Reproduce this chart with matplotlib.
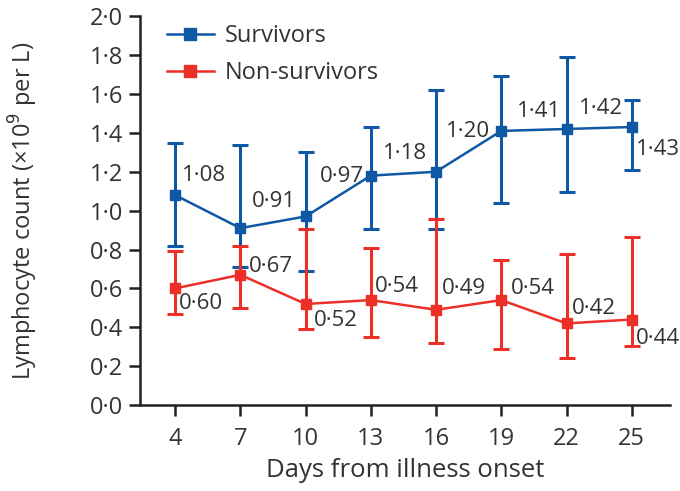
import matplotlib
matplotlib.use("Agg")
import matplotlib.pyplot as plt
from matplotlib.ticker import FuncFormatter

days = [4, 7, 10, 13, 16, 19, 22, 25]

surv_mean = [1.08, 0.91, 0.97, 1.18, 1.20, 1.41, 1.42, 1.43]
surv_upper = [1.35, 1.34, 1.30, 1.43, 1.62, 1.69, 1.79, 1.57]
surv_lower = [0.82, 0.71, 0.69, 0.905, 0.905, 1.04, 1.095, 1.21]

non_mean = [0.60, 0.67, 0.52, 0.54, 0.49, 0.54, 0.42, 0.44]
non_upper = [0.79, 0.82, 0.905, 0.81, 0.955, 0.745, 0.775, 0.865]
non_lower = [0.47, 0.50, 0.39, 0.35, 0.32, 0.29, 0.24, 0.305]

# label offsets in points (dx, dy) relative to each point
surv_offsets = [(5, 14), (8, 19), (10, 29), (9, 16), (7, 29), (11, 14), (9, 15), (3, -16)]
non_offsets = [(3, -11), (6, 6), (6, -12), (3, 10), (4, 15), (7, 8), (4, 11), (3, -14)]

blue = "#0f58a5"
red = "#ec2f27"
txt = "#333333"

plt.rcParams['font.family'] = ['Open Sans', 'DejaVu Sans']

fig = plt.figure(figsize=(6.8, 4.91), dpi=100)
ax = fig.add_axes([0.206, 0.175, 0.779, 0.792])


def dot(v, nd):
    return f"{v:.{nd}f}".replace(".", "\u00b7")


for mean, up, lo, col, name in [(surv_mean, surv_upper, surv_lower, blue, "Survivors"),
                                (non_mean, non_upper, non_lower, red, "Non-survivors")]:
    err = [[m - l for m, l in zip(mean, lo)], [u - m for m, u in zip(mean, up)]]
    ax.errorbar(days, mean, yerr=err, color=col, lw=1.8, marker="s", ms=7.5,
                elinewidth=2.2, capsize=5.5, capthick=2.2)
    ax.plot([], [], color=col, lw=1.8, marker="s", ms=9, label=name)

for d, m, off in zip(days, surv_mean, surv_offsets):
    ax.annotate(dot(m, 2), (d, m), xytext=off, textcoords="offset points",
                ha="left", va="center", fontsize=16, color=txt)
for d, m, off in zip(days, non_mean, non_offsets):
    ax.annotate(dot(m, 2), (d, m), xytext=off, textcoords="offset points",
                ha="left", va="center", fontsize=16, color=txt)

ax.set_xlim(2.39, 26.75)
ax.set_ylim(0, 2.0)
ax.set_xticks(days)
ax.set_yticks([i * 0.2 for i in range(11)])
ax.yaxis.set_major_formatter(FuncFormatter(lambda v, p: dot(v, 1)))

for s in ["top", "right"]:
    ax.spines[s].set_visible(False)
for s in ["left", "bottom"]:
    ax.spines[s].set_linewidth(1.8)
    ax.spines[s].set_color("#222222")

ax.tick_params(axis="both", length=8, width=1.8, color="#222222",
               labelsize=17, labelcolor=txt, pad=4)
ax.tick_params(axis="x", pad=8)

ax.set_xlabel("Days from illness onset", fontsize=18.5, color=txt, labelpad=5)
ax.set_ylabel("Lymphocyte count (\u00d710$^9$ per L)", fontsize=17, color=txt, labelpad=36)

leg = ax.legend(loc="upper left", bbox_to_anchor=(0.01, 1.035), frameon=False,
                fontsize=17, handlelength=2.0, handletextpad=0.45, labelspacing=0.55)
for t in leg.get_texts():
    t.set_color(txt)

fig.savefig("out.png", dpi=100)
